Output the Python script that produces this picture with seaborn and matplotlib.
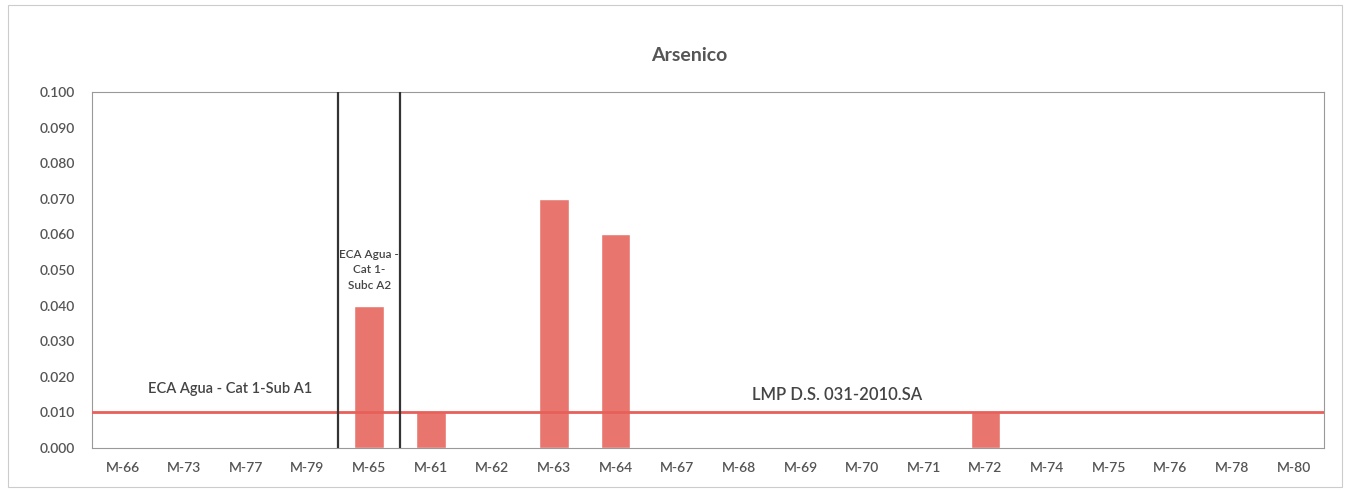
import matplotlib
matplotlib.use("Agg")
import matplotlib.pyplot as plt
import seaborn as sns
import pandas as pd
from matplotlib.patches import Rectangle

# Datos (mg/L de arsénico por estación de muestreo)
estaciones = ['M-66', 'M-73', 'M-77', 'M-79', 'M-65', 'M-61', 'M-62', 'M-63', 'M-64', 'M-67',
              'M-68', 'M-69', 'M-70', 'M-71', 'M-72', 'M-74', 'M-75', 'M-76', 'M-78', 'M-80']
arsenico = [0, 0, 0, 0, 0.040, 0.010, 0, 0.070, 0.060, 0,
            0, 0, 0, 0, 0.010, 0, 0, 0, 0, 0]
limite_eca_a1 = 0.010
limites_subc_a2 = [3.5, 4.5]  # bordes de la zona marcada alrededor de M-65
y_ticks = [0.000, 0.010, 0.020, 0.030, 0.040, 0.050, 0.060, 0.070, 0.080, 0.090, 0.100]

df = pd.DataFrame({'estacion': estaciones, 'valor': arsenico})

sns.set_style('white')
plt.rcParams['font.family'] = ['Lato', 'DejaVu Sans']

texto = '#555555'
rojo = '#E8756E'

fig = plt.figure(figsize=(13.5, 4.94), dpi=100)
ax = fig.add_axes([0.068, 0.093, 0.913, 0.721])

sns.barplot(data=df, x='estacion', y='valor', color=rojo, width=0.48,
            saturation=1, ax=ax)

# Límite ECA Agua - Cat 1-Sub A1
ax.axhline(limite_eca_a1, color='#E8605A', lw=2, zorder=3)

# Líneas verticales ECA Agua - Cat 1-Subc A2
for xv in limites_subc_a2:
    ax.axvline(xv, color='#333333', lw=1.6, zorder=4)

ax.text(1.75, 0.0165, 'ECA Agua - Cat 1-Sub A1', ha='center', va='center',
        fontsize=10.5, color='#444444', fontweight='semibold')
ax.text(4.0, 0.050, 'ECA Agua -\nCat 1-\nSubc A2', ha='center', va='center',
        fontsize=8.5, color='#444444', linespacing=1.5, fontweight='semibold')
ax.text(11.6, 0.015, 'LMP D.S. 031-2010.SA', ha='center', va='center',
        fontsize=12, color='#444444', fontweight='semibold')

ax.set_xlim(-0.5, len(estaciones) - 0.5)
ax.set_ylim(0, 0.100)
ax.set_yticks(y_ticks)
ax.set_yticklabels([f'{v:.3f}' for v in y_ticks])
ax.set_xlabel('')
ax.set_ylabel('')
ax.tick_params(axis='both', length=0, labelsize=10, labelcolor=texto)
ax.tick_params(axis='x', pad=10)
ax.tick_params(axis='y', pad=12)
for lbl in ax.get_xticklabels() + ax.get_yticklabels():
    lbl.set_fontweight('semibold')
for s in ax.spines.values():
    s.set_color('#999999')
    s.set_linewidth(0.8)

ax.set_title('Arsenico', fontsize=14, fontweight='bold', color='#555555', pad=22,
             x=0.485)

# Borde del área del gráfico
fig.patches.append(Rectangle((0.006, 0.015), 0.988, 0.975, transform=fig.transFigure,
                             fill=False, edgecolor='#cccccc', lw=0.8))

fig.savefig('out.png', dpi=100)
